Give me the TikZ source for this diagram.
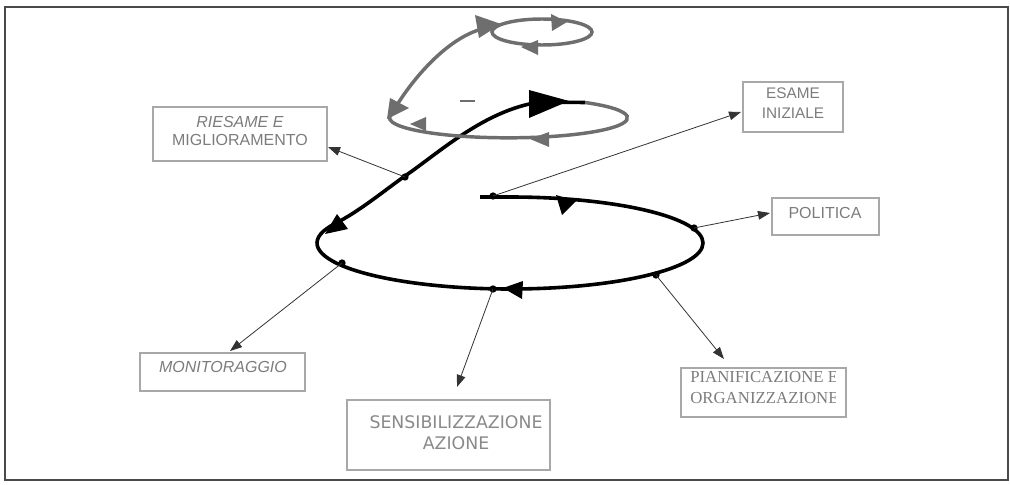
\documentclass[tikz,border=0pt]{standalone}
\usepackage{fontspec}
\setmainfont{Liberation Sans}
\newfontfamily\timesf{Liberation Serif}
\newfontfamily\dejavu{DejaVu Sans}
\usetikzlibrary{arrows.meta,calc}
\definecolor{boxc}{HTML}{A8A8A8}
\definecolor{txtc}{HTML}{7C7C7C}
\definecolor{spg}{HTML}{6E6E6E}
\definecolor{framec}{HTML}{4A4A4A}
\begin{document}
\begin{tikzpicture}[x=0.75pt,y=-0.75pt,
  box/.style={draw=boxc,line width=0.9pt,inner sep=0pt},
  lbl/.style={text=txtc,font=\fontsize{12}{13.5}\selectfont,align=center,inner sep=0pt},
  conn/.style={draw=black!80,line width=0.6pt,-{Triangle[length=9pt,width=6.5pt]}},
  dotc/.style={circle,fill=black,inner sep=0pt,minimum size=5.5pt},
  blk/.style={line width=2.7pt,black},
  gry/.style={line width=2.6pt,spg},
]
\useasboundingbox (0,0) rectangle (1010,485);
\draw[framec,line width=1.3pt] (5,7) rectangle (1008,480);

% boxes
\node[box,minimum width=130.5pt,minimum height=40.5pt] (ries) at (240,134) {};
\node[lbl,font=\fontsize{12}{13.5}\selectfont] at (240,131) {\textit{RIESAME E}\\MIGLIORAMENTO};
\node[box,minimum width=75pt,minimum height=37.5pt] (esame) at (793,107) {};
\node[lbl,font=\fontsize{11.5}{15}\selectfont] at (793,103) {ESAME\\INIZIALE};
\node[box,minimum width=80.25pt,minimum height=27.75pt] (pol) at (825.5,216.5) {};
\node[lbl] at (825,213) {POLITICA};
\node[box,minimum width=123.75pt,minimum height=28.5pt] (mon) at (222.5,372) {};
\node[lbl] at (223,367) {\textit{MONITORAGGIO}};
\node[box,minimum width=123.75pt,minimum height=36.75pt] (pian) at (763.5,392.5) {};
\begin{scope}
\clip (681,368) rectangle (835,417);
\node[lbl,anchor=west,align=left,font=\timesf\fontsize{12.6}{15.75}\selectfont] at (690,387.5) {PIANIFICAZIONE E\\ORGANIZZAZIONE};
\end{scope}
\node[box,minimum width=152.25pt,minimum height=52.5pt] (sens) at (448.5,435) {};
\node[lbl,text=txtc!90,font=\dejavu\fontsize{13}{15.75}\selectfont] at (456,432.5) {SENSIBILIZZAZIONE\\AZIONE};

% black spiral
\draw[blk] (480,197) -- (510,197)
  arc[start angle=-90,end angle=205,x radius=193,y radius=46]
  .. controls (360,211) and (385,190) .. (405,176)
  .. controls (440,152) and (485,110) .. (540,102) -- (585,102.5);
\coordinate (jn) at (585,102.5);
% gray upper spiral
\draw[gry] (jn) arc[start angle=-50,end angle=190,x radius=119,y radius=20]
  .. controls (412,78) and (448,38) .. (482,29) -- (494,27);
\draw[gry] (542,32) ellipse[x radius=50,y radius=13];
\draw[spg,line width=1pt] (460,101) -- (475,101);

% black arrowheads
\fill[black] (556,195) -- (576,201) -- (562,215) -- cycle;
\fill[black] (503,288) -- (523,281) -- (522,299) -- cycle;
\fill[black] (325,234) -- (337,214) -- (348,229) -- cycle;
\fill[black] (529,90) -- (569,101) -- (529,118) -- cycle;
% gray arrowheads
\fill[spg] (475,15) -- (501,24) -- (479,38) -- cycle;
\fill[spg] (551,14) -- (567,22) -- (552,31) -- cycle;
\fill[spg] (521,47) -- (538,40) -- (538,55) -- cycle;
\fill[spg] (387,119) -- (390,98) -- (409,108) -- cycle;
\fill[spg] (410,124) -- (426,117) -- (426,131) -- cycle;
\fill[spg] (530,139) -- (549,132) -- (549,147) -- cycle;

% dots on spiral
\node[dotc] (d1) at (405,177) {};
\node[dotc] (d2) at (493,196) {};
\node[dotc] (d3) at (694,228) {};
\node[dotc] (d4) at (342,263) {};
\node[dotc] (d5) at (493,289) {};
\node[dotc] (d6) at (656,275) {};

% arrow tips
\coordinate (tR) at (328,147);
\coordinate (tE) at (741,112);
\coordinate (tP) at (770,213);
\coordinate (tM) at (230,351);
\coordinate (tS) at (457,387);
\coordinate (tPi) at (724,359);

\draw[conn] (d1.center) -- (tR);
\draw[conn] (d2.center) -- (tE);
\draw[conn] (d3.center) -- (tP);
\draw[conn] (d4.center) -- (tM);
\draw[conn] (d5.center) -- (tS);
\draw[conn] (d6.center) -- (tPi);
\end{tikzpicture}
\end{document}
